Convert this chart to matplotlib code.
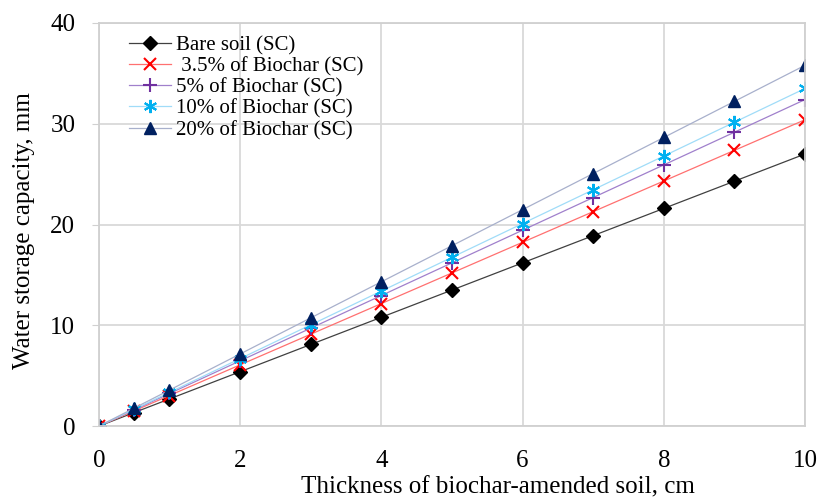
import matplotlib
matplotlib.use("Agg")
import matplotlib.pyplot as plt

plt.rcParams['font.family'] = ['Liberation Serif', 'DejaVu Serif']

x = [0, 0.5, 1, 2, 3, 4, 5, 6, 7, 8, 9, 10]
bare = [0, 1.35, 2.7, 5.4, 8.1, 10.8, 13.5, 16.2, 18.9, 21.6, 24.3, 27.0]
bc35 = [0, 1.52, 3.04, 6.08, 9.12, 12.16, 15.2, 18.24, 21.28, 24.32, 27.36, 30.4]
bc5 = [0, 1.62, 3.24, 6.48, 9.72, 12.96, 16.2, 19.44, 22.68, 25.92, 29.16, 32.4]
bc10 = [0, 1.68, 3.35, 6.7, 10.05, 13.4, 16.75, 20.1, 23.45, 26.8, 30.15, 33.5]
bc20 = [0, 1.79, 3.58, 7.16, 10.74, 14.32, 17.9, 21.48, 25.06, 28.64, 32.22, 35.8]
labels = ["Bare soil (SC)", " 3.5% of Biochar (SC)", "5% of Biochar (SC)",
          "10% of Biochar (SC)", "20% of Biochar (SC)"]
xticks = [0, 2, 4, 6, 8, 10]
yticks = [0, 10, 20, 30, 40]

fig = plt.figure(figsize=(8.24, 4.99), dpi=100)
ax = fig.add_axes([0.120, 0.146, 0.857, 0.808])

ax.plot(x, bare, color='#404040', lw=0.9, marker='D', ms=7, mfc='black', mec='black', label=labels[0])
ax.plot(x, bc35, color='#ff7070', lw=0.9, marker='x', ms=8.5, mew=1.5, mec='#ff0000', label=labels[1])
ax.plot(x, bc5, color='#a080cc', lw=0.9, marker='+', ms=9.5, mew=1.5, mec='#7030a0', label=labels[2])
ax.plot(x, bc10, color='#a0dcf8', lw=0.9, marker=(6, 2, 0), ms=9.5, mew=1.5, mec='#00b0f0', label=labels[3])
ax.plot(x, bc20, color='#a8b0cc', lw=0.9, marker='^', ms=8.5, mfc='#002060', mec='#002060', label=labels[4])

ax.set_xlim(0, 10)
ax.set_ylim(0, 40)
ax.set_xticks(xticks)
ax.set_yticks(yticks)
ax.grid(True, color='#d9d9d9', lw=1.3)
ax.set_axisbelow(True)
for s in ax.spines.values():
    s.set_color('#d0d0d0')
    s.set_linewidth(1.3)
ax.tick_params(axis='x', length=0, pad=17, labelsize=18)
ax.tick_params(axis='y', length=5, color='#d0d0d0', pad=12, labelsize=18)
for lab in ax.get_xticklabels() + ax.get_yticklabels():
    lab.set_clip_on(False)

ax.set_xlabel("Thickness of biochar-amended soil, cm", fontsize=18)
ax.set_ylabel("Water storage capacity, mm", fontsize=18)
ax.xaxis.set_label_coords(0.565, -0.124)
ax.yaxis.set_label_coords(-0.090, 0.486)

leg = ax.legend(loc='upper left', bbox_to_anchor=(0.025, 1.0), frameon=False, fontsize=15,
                handlelength=2.0, handletextpad=0.25, labelspacing=0.08, borderaxespad=0.2)

fig.savefig("out.png", dpi=100)
